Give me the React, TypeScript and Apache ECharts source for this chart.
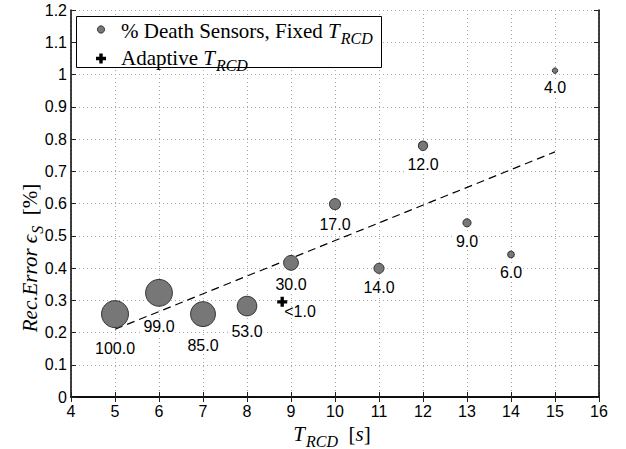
import React, { useEffect, useRef } from 'react';
import * as echarts from 'echarts';

const T_RCD = [5, 6, 7, 8, 9, 10, 11, 12, 13, 14, 15];
const recError = [0.257, 0.323, 0.257, 0.282, 0.416, 0.598, 0.399, 0.779, 0.54, 0.442, 1.012];
const deathPct = [100, 99, 85, 53, 30, 17, 14, 12, 9, 6, 4];

const adaptiveT = [8.8];
const adaptiveErr = [0.295];
const adaptiveLabel = ['<1.0'];

const fitX = [5, 15];
const fitY = [0.21, 0.76];

const xTicks = { min: 4, max: 16, interval: 1 };
const yTicks = { min: 0, max: 1.2, interval: 0.1 };

const SANS = '"Liberation Sans", Arial, Helvetica, sans-serif';
const SERIF = '"Liberation Serif", "DejaVu Serif", "Times New Roman", serif';
const PLUS = 'path://M3,0H6V3H9V6H6V9H3V6H0V3H3Z';

const sizeOf = (p: number) => 2.7 * Math.sqrt(p);

const fixedData = T_RCD.map((t, i) => {
  const r = sizeOf(deathPct[i]) / 2;
  return {
    value: [t, recError[i], deathPct[i]],
    label: { distance: 6 + Math.max(0, r - 9) * 1.4 },
  };
});

const axisCommon = {
  type: 'value' as const,
  axisLine: { show: true, lineStyle: { color: '#000', width: 1.5 } },
  axisTick: { show: true, inside: true, length: 5, lineStyle: { color: '#222', width: 1 } },
};

const rich = {
  r: { fontFamily: SERIF, fontSize: 21, color: '#000', verticalAlign: 'middle' },
  i: { fontFamily: SERIF, fontSize: 21, fontStyle: 'italic', color: '#000', verticalAlign: 'middle' },
  s: { fontFamily: SERIF, fontSize: 16, fontStyle: 'italic', color: '#000', verticalAlign: 'middle', padding: [14, 0, 0, 1] },
};

const legendX = 101;
const plusPts = (cx: number, cy: number, h: number, t: number) => [
  [cx - t, cy - h], [cx + t, cy - h], [cx + t, cy - t], [cx + h, cy - t], [cx + h, cy + t],
  [cx + t, cy + t], [cx + t, cy + h], [cx - t, cy + h], [cx - t, cy + t], [cx - h, cy + t],
  [cx - h, cy - t], [cx - t, cy - t],
];

const option = {
  animation: false,
  backgroundColor: '#fff',
  grid: { left: 71, right: 27, top: 10, bottom: 52, containLabel: false },
  xAxis: [
    {
      ...axisCommon,
      ...xTicks,
      position: 'bottom',
      axisLabel: { color: '#000', fontFamily: SANS, fontSize: 16, margin: 6 },
      splitLine: { show: true, lineStyle: { color: '#aaa', type: [1, 3], width: 1 } },
    },
    {
      ...axisCommon,
      ...xTicks,
      position: 'top',
      axisLabel: { show: false },
      splitLine: { show: false },
    },
  ],
  yAxis: [
    {
      ...axisCommon,
      ...yTicks,
      position: 'left',
      axisLabel: { color: '#000', fontFamily: SANS, fontSize: 16, margin: 4 },
      splitLine: { show: true, lineStyle: { color: '#aaa', type: [1, 3], width: 1 } },
    },
    {
      ...axisCommon,
      ...yTicks,
      position: 'right',
      axisLabel: { show: false },
      splitLine: { show: false },
    },
  ],
  series: [
    {
      type: 'line',
      z: 1,
      data: fitX.map((x, i) => [x, fitY[i]]),
      symbol: 'none',
      lineStyle: { color: '#000', width: 1.2, type: [8, 5] },
      silent: true,
    },
    {
      type: 'scatter',
      name: 'fixed',
      z: 3,
      data: fixedData,
      symbol: 'circle',
      symbolSize: (v: number[]) => sizeOf(v[2]),
      itemStyle: { color: '#777', borderColor: '#333', borderWidth: 1, opacity: 1 },
      label: {
        show: true,
        position: 'bottom',
        formatter: (p: any) => p.value[2].toFixed(1),
        color: '#000',
        fontFamily: SANS,
        fontSize: 16,
        backgroundColor: '#fff',
        padding: [0, 1],
      },
    },
    {
      type: 'scatter',
      name: 'adaptive',
      z: 3,
      data: adaptiveT.map((t, i) => [t, adaptiveErr[i]]),
      symbol: PLUS,
      symbolSize: 10,
      itemStyle: { color: '#000', opacity: 1 },
      label: {
        show: true,
        position: 'right',
        distance: -3,
        offset: [0, 10],
        formatter: (p: any) => adaptiveLabel[p.dataIndex],
        color: '#000',
        fontFamily: SANS,
        fontSize: 16,
      },
    },
  ],
  graphic: [
    {
      type: 'text',
      x: 332,
      y: 434,
      style: {
        text: '{i|T}{s|RCD}{r|  [}{i|s}{r|]}',
        rich,
        align: 'center',
        verticalAlign: 'middle',
      },
    },
    {
      type: 'text',
      x: 30,
      y: 258,
      rotation: Math.PI / 2,
      style: {
        text: '{i|Rec.Error }{i|ϵ}{s|S}{r|  [%]}',
        rich,
        align: 'center',
        verticalAlign: 'middle',
      },
    },
    {
      type: 'rect',
      z: 10,
      shape: { x: 76.5, y: 16.5, width: 305, height: 51 },
      style: { fill: '#fff', stroke: '#000', lineWidth: 1 },
    },
    {
      type: 'circle',
      z: 11,
      shape: { cx: legendX, cy: 29.5, r: 3.6 },
      style: { fill: '#777', stroke: '#333', lineWidth: 1 },
    },
    {
      type: 'polygon',
      z: 11,
      shape: { points: plusPts(legendX, 58.5, 5, 1.7) },
      style: { fill: '#000' },
    },
    {
      type: 'text',
      z: 11,
      x: 121,
      y: 31,
      style: {
        text: '{r|% Death Sensors, Fixed }{i|T}{s|RCD}',
        rich,
        verticalAlign: 'middle',
      },
    },
    {
      type: 'text',
      z: 11,
      x: 121,
      y: 58,
      style: {
        text: '{r|Adaptive }{i|T}{s|RCD}',
        rich,
        verticalAlign: 'middle',
      },
    },
  ],
};

export default function App() {
  const ref = useRef<HTMLDivElement>(null);
  useEffect(() => {
    const chart = echarts.init(ref.current!, null, { renderer: 'svg' });
    chart.setOption(option as any);
    return () => chart.dispose();
  }, []);
  return (
    <div
      ref={ref}
      style={{ position: 'fixed', left: 0, top: 0, width: 626, height: 449, background: '#fff' }}
    />
  );
}
